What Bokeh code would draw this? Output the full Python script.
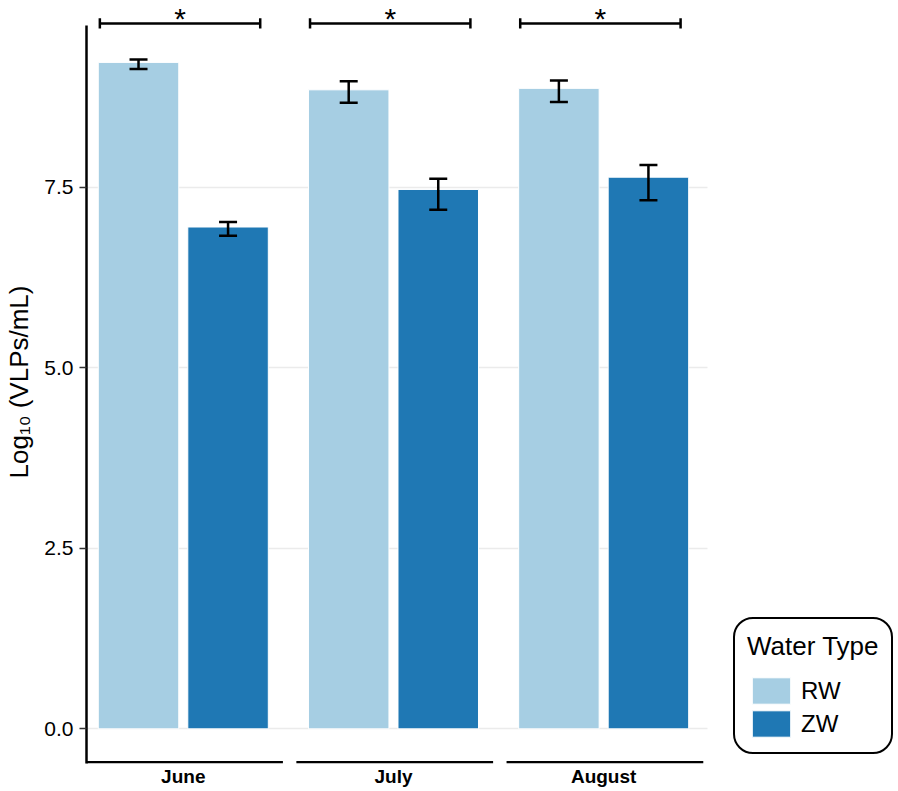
from bokeh.plotting import figure
from bokeh.models import (ColumnDataSource, Whisker, TeeHead, Legend, LegendItem,
                          FixedTicker, Range1d, Grid)
from bokeh.core.properties import value
from bokeh.embed import file_html
from bokeh.resources import INLINE

# ---------------- data ----------------
months = ["June", "July", "August"]
water_types = ["RW", "ZW"]
rw_mean = [9.23, 8.85, 8.87]
rw_lower = [9.14, 8.67, 8.68]
rw_upper = [9.27, 8.97, 8.98]
zw_mean = [6.95, 7.47, 7.64]
zw_lower = [6.83, 7.19, 7.32]
zw_upper = [7.02, 7.62, 7.81]
significance = ["*", "*", "*"]
y_ticks = [0.0, 2.5, 5.0, 7.5]
y_tick_labels = ["0.0", "2.5", "5.0", "7.5"]
colors = {"RW": "#A6CEE3", "ZW": "#1F78B4"}

FONT = "Liberation Sans"
group_x = list(range(len(months)))
dodge = 0.213
bar_w = 0.383
x_lo, x_panel_hi = -0.4605, 2.492   # plotting panel extent (data units)
y_bottom = -0.463                   # where the month axis lines sit
y_axis_top = 9.74
LW = 2.5

p = figure(frame_width=811, frame_height=763,
           x_range=Range1d(x_lo, 3.398), y_range=Range1d(-0.48, 10.087),
           output_backend="svg", toolbar_location=None,
           min_border_left=86, min_border_right=0,
           min_border_top=0, min_border_bottom=25)
p.outline_line_color = None
p.background_fill_color = "white"
p.border_fill_color = "white"

# grid
p.xgrid.visible = False
yg = p.ygrid[0]
yg.grid_line_color = "#EBEBEB"
yg.grid_line_width = 1.5
if "cross_bounds" in Grid.properties():
    yg.cross_bounds = (x_lo, x_panel_hi)
else:
    yg.visible = False
    p.segment(x0=[x_lo] * len(y_ticks), x1=[x_panel_hi] * len(y_ticks),
              y0=y_ticks, y1=y_ticks, line_color="#EBEBEB", line_width=1.5,
              level="underlay")

# y axis
ya = p.yaxis[0]
ya.ticker = FixedTicker(ticks=y_ticks)
ya.major_label_overrides = {t: l for t, l in zip(y_ticks, y_tick_labels)}
ya.bounds = (-0.477, y_axis_top)
ya.axis_line_color = "black"
ya.axis_line_width = LW
ya.major_tick_line_color = "#333333"
ya.major_tick_line_width = 1.5
ya.major_tick_out = 7
ya.major_tick_in = 0
ya.minor_tick_line_color = None
ya.major_label_text_font = FONT
ya.major_label_text_font_size = "21px"
ya.major_label_text_color = "black"
ya.major_label_standoff = 6
ya.axis_label = "Log\u2081\u2080 (VLPs/mL)"
ya.axis_label_text_font = FONT
ya.axis_label_text_font_size = "26px"
ya.axis_label_text_font_style = "normal"
ya.axis_label_text_color = "black"
ya.axis_label_standoff = 7

# x axis (month labels only)
xa = p.xaxis[0]
xa.ticker = FixedTicker(ticks=group_x)
xa.major_label_overrides = {g: m for g, m in zip(group_x, months)}
xa.axis_line_color = None
xa.major_tick_line_color = None
xa.minor_tick_line_color = None
xa.major_tick_out = 0
xa.major_label_standoff = 2
xa.major_label_text_font = FONT
xa.major_label_text_font_size = "19px"
xa.major_label_text_font_style = "bold"
xa.major_label_text_color = "black"

# month axis segments
p.segment(x0=[g - 0.462 for g in group_x], x1=[g + 0.474 for g in group_x],
          y0=[y_bottom] * len(group_x), y1=[y_bottom] * len(group_x),
          line_color="black", line_width=LW)

# bars + error bars
series = [("RW", rw_mean, rw_lower, rw_upper, -dodge),
          ("ZW", zw_mean, zw_lower, zw_upper, dodge)]
items = []
for name, mean, lo, hi, off in series:
    src = ColumnDataSource(dict(x=[g + off for g in group_x], top=mean,
                                lower=lo, upper=hi, month=months))
    r = p.vbar(x="x", top="top", bottom=0, width=bar_w, source=src,
               fill_color=colors[name], line_color="white", line_width=1)
    w = Whisker(base="x", upper="upper", lower="lower", source=src,
                line_color="black", line_width=LW, level="overlay",
                upper_head=TeeHead(size=18, line_width=LW, line_color="black"),
                lower_head=TeeHead(size=18, line_width=LW, line_color="black"))
    p.add_layout(w)
    items.append(LegendItem(label=name, renderers=[r]))

# significance brackets
br_y = 9.77
br_tick = 0.07
bl = [g - 0.397 for g in group_x]
brr = [g + 0.366 for g in group_x]
p.segment(x0=bl, x1=brr, y0=[br_y] * 3, y1=[br_y] * 3,
          line_color="black", line_width=LW)
p.segment(x0=bl + brr, x1=bl + brr, y0=[br_y - br_tick] * 6, y1=[br_y + br_tick] * 6,
          line_color="black", line_width=LW)
p.text(x=[(a + b) / 2 for a, b in zip(bl, brr)], y=[9.836] * 3, text=significance,
       text_font=value(FONT), text_font_size="30px", text_align="center",
       text_baseline="alphabetic", text_color="black")

# legend
legend = Legend(items=items, title="Water Type", location=(647, 9),
                orientation="vertical",
                title_text_font=FONT, title_text_font_size="26px",
                title_text_font_style="normal", title_text_color="black",
                title_standoff=12,
                label_text_font=FONT, label_text_font_size="24px",
                label_text_color="black",
                glyph_width=48, glyph_height=33, label_standoff=6,
                spacing=0, padding=12, margin=0,
                border_line_color="black", border_line_width=2,
                border_line_alpha=1.0,
                background_fill_color="white", background_fill_alpha=1.0)
try:
    legend.spacing = -3
except Exception:
    pass
if "border_radius" in Legend.properties():
    legend.border_radius = 20
p.add_layout(legend)

open("out.html", "w").write(file_html(p, INLINE))
